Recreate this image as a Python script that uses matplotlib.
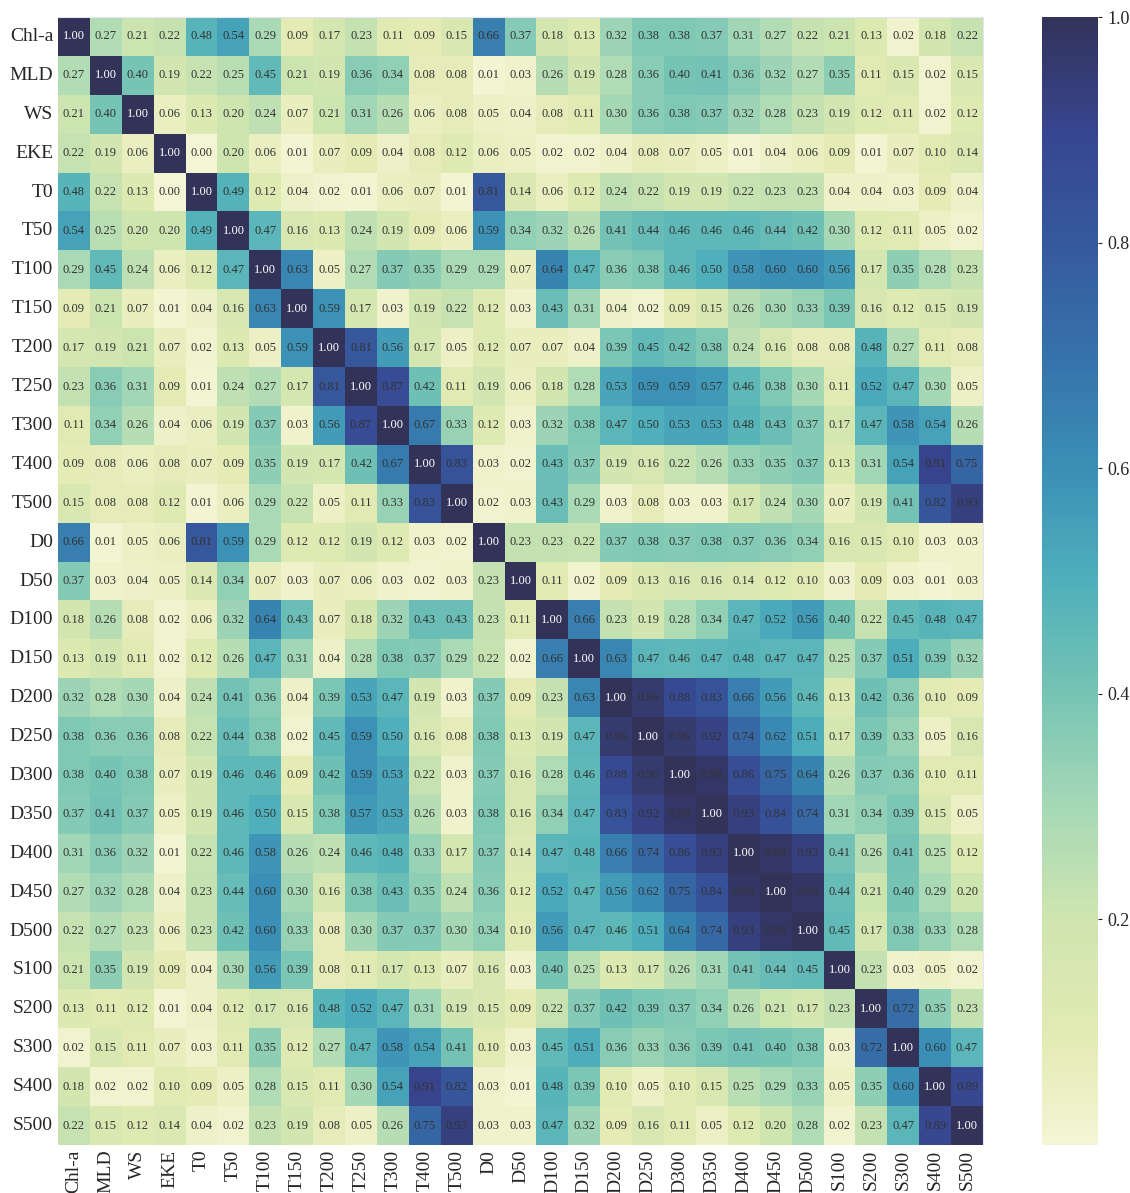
import numpy as np
import pandas as pd
import matplotlib
matplotlib.use('Agg')
import matplotlib.pyplot as plt
from matplotlib import font_manager
from matplotlib.colors import LinearSegmentedColormap
import seaborn as sns

labels = ['Chl-a', 'MLD', 'WS', 'EKE', 'T0', 'T50', 'T100', 'T150', 'T200', 'T250',
          'T300', 'T400', 'T500', 'D0', 'D50', 'D100', 'D150', 'D200', 'D250', 'D300',
          'D350', 'D400', 'D450', 'D500', 'S100', 'S200', 'S300', 'S400', 'S500']

rows = [
    [1.00, 0.27, 0.21, 0.22, 0.48, 0.54, 0.29, 0.09, 0.17, 0.23, 0.11, 0.09, 0.15, 0.66, 0.37, 0.18, 0.13, 0.32, 0.38, 0.38, 0.37, 0.31, 0.27, 0.22, 0.21, 0.13, 0.02, 0.18, 0.22],
    [0.27, 1.00, 0.40, 0.19, 0.22, 0.25, 0.45, 0.21, 0.19, 0.36, 0.34, 0.08, 0.08, 0.01, 0.03, 0.26, 0.19, 0.28, 0.36, 0.40, 0.41, 0.36, 0.32, 0.27, 0.35, 0.11, 0.15, 0.02, 0.15],
    [0.21, 0.40, 1.00, 0.06, 0.13, 0.20, 0.24, 0.07, 0.21, 0.31, 0.26, 0.06, 0.08, 0.05, 0.04, 0.08, 0.11, 0.30, 0.36, 0.38, 0.37, 0.32, 0.28, 0.23, 0.19, 0.12, 0.11, 0.02, 0.12],
    [0.22, 0.19, 0.06, 1.00, 0.00, 0.20, 0.06, 0.01, 0.07, 0.09, 0.04, 0.08, 0.12, 0.06, 0.05, 0.02, 0.02, 0.04, 0.08, 0.07, 0.05, 0.01, 0.04, 0.06, 0.09, 0.01, 0.07, 0.10, 0.14],
    [0.48, 0.22, 0.13, 0.00, 1.00, 0.49, 0.12, 0.04, 0.02, 0.01, 0.06, 0.07, 0.01, 0.81, 0.14, 0.06, 0.12, 0.24, 0.22, 0.19, 0.19, 0.22, 0.23, 0.23, 0.04, 0.04, 0.03, 0.09, 0.04],
    [0.54, 0.25, 0.20, 0.20, 0.49, 1.00, 0.47, 0.16, 0.13, 0.24, 0.19, 0.09, 0.06, 0.59, 0.34, 0.32, 0.26, 0.41, 0.44, 0.46, 0.46, 0.46, 0.44, 0.42, 0.30, 0.12, 0.11, 0.05, 0.02],
    [0.29, 0.45, 0.24, 0.06, 0.12, 0.47, 1.00, 0.63, 0.05, 0.27, 0.37, 0.35, 0.29, 0.29, 0.07, 0.64, 0.47, 0.36, 0.38, 0.46, 0.50, 0.58, 0.60, 0.60, 0.56, 0.17, 0.35, 0.28, 0.23],
    [0.09, 0.21, 0.07, 0.01, 0.04, 0.16, 0.63, 1.00, 0.59, 0.17, 0.03, 0.19, 0.22, 0.12, 0.03, 0.43, 0.31, 0.04, 0.02, 0.09, 0.15, 0.26, 0.30, 0.33, 0.39, 0.16, 0.12, 0.15, 0.19],
    [0.17, 0.19, 0.21, 0.07, 0.02, 0.13, 0.05, 0.59, 1.00, 0.81, 0.56, 0.17, 0.05, 0.12, 0.07, 0.07, 0.04, 0.39, 0.45, 0.42, 0.38, 0.24, 0.16, 0.08, 0.08, 0.48, 0.27, 0.11, 0.08],
    [0.23, 0.36, 0.31, 0.09, 0.01, 0.24, 0.27, 0.17, 0.81, 1.00, 0.87, 0.42, 0.11, 0.19, 0.06, 0.18, 0.28, 0.53, 0.59, 0.59, 0.57, 0.46, 0.38, 0.30, 0.11, 0.52, 0.47, 0.30, 0.05],
    [0.11, 0.34, 0.26, 0.04, 0.06, 0.19, 0.37, 0.03, 0.56, 0.87, 1.00, 0.67, 0.33, 0.12, 0.03, 0.32, 0.38, 0.47, 0.50, 0.53, 0.53, 0.48, 0.43, 0.37, 0.17, 0.47, 0.58, 0.54, 0.26],
    [0.09, 0.08, 0.06, 0.08, 0.07, 0.09, 0.35, 0.19, 0.17, 0.42, 0.67, 1.00, 0.83, 0.03, 0.02, 0.43, 0.37, 0.19, 0.16, 0.22, 0.26, 0.33, 0.35, 0.37, 0.13, 0.31, 0.54, 0.91, 0.75],
    [0.15, 0.08, 0.08, 0.12, 0.01, 0.06, 0.29, 0.22, 0.05, 0.11, 0.33, 0.83, 1.00, 0.02, 0.03, 0.43, 0.29, 0.03, 0.08, 0.03, 0.03, 0.17, 0.24, 0.30, 0.07, 0.19, 0.41, 0.82, 0.93],
    [0.66, 0.01, 0.05, 0.06, 0.81, 0.59, 0.29, 0.12, 0.12, 0.19, 0.12, 0.03, 0.02, 1.00, 0.23, 0.23, 0.22, 0.37, 0.38, 0.37, 0.38, 0.37, 0.36, 0.34, 0.16, 0.15, 0.10, 0.03, 0.03],
    [0.37, 0.03, 0.04, 0.05, 0.14, 0.34, 0.07, 0.03, 0.07, 0.06, 0.03, 0.02, 0.03, 0.23, 1.00, 0.11, 0.02, 0.09, 0.13, 0.16, 0.16, 0.14, 0.12, 0.10, 0.03, 0.09, 0.03, 0.01, 0.03],
    [0.18, 0.26, 0.08, 0.02, 0.06, 0.32, 0.64, 0.43, 0.07, 0.18, 0.32, 0.43, 0.43, 0.23, 0.11, 1.00, 0.66, 0.23, 0.19, 0.28, 0.34, 0.47, 0.52, 0.56, 0.40, 0.22, 0.45, 0.48, 0.47],
    [0.13, 0.19, 0.11, 0.02, 0.12, 0.26, 0.47, 0.31, 0.04, 0.28, 0.38, 0.37, 0.29, 0.22, 0.02, 0.66, 1.00, 0.63, 0.47, 0.46, 0.47, 0.48, 0.47, 0.47, 0.25, 0.37, 0.51, 0.39, 0.32],
    [0.32, 0.28, 0.30, 0.04, 0.24, 0.41, 0.36, 0.04, 0.39, 0.53, 0.47, 0.19, 0.03, 0.37, 0.09, 0.23, 0.63, 1.00, 0.96, 0.88, 0.83, 0.66, 0.56, 0.46, 0.13, 0.42, 0.36, 0.10, 0.09],
    [0.38, 0.36, 0.36, 0.08, 0.22, 0.44, 0.38, 0.02, 0.45, 0.59, 0.50, 0.16, 0.08, 0.38, 0.13, 0.19, 0.47, 0.96, 1.00, 0.96, 0.92, 0.74, 0.62, 0.51, 0.17, 0.39, 0.33, 0.05, 0.16],
    [0.38, 0.40, 0.38, 0.07, 0.19, 0.46, 0.46, 0.09, 0.42, 0.59, 0.53, 0.22, 0.03, 0.37, 0.16, 0.28, 0.46, 0.88, 0.96, 1.00, 0.98, 0.86, 0.75, 0.64, 0.26, 0.37, 0.36, 0.10, 0.11],
    [0.37, 0.41, 0.37, 0.05, 0.19, 0.46, 0.50, 0.15, 0.38, 0.57, 0.53, 0.26, 0.03, 0.38, 0.16, 0.34, 0.47, 0.83, 0.92, 0.98, 1.00, 0.93, 0.84, 0.74, 0.31, 0.34, 0.39, 0.15, 0.05],
    [0.31, 0.36, 0.32, 0.01, 0.22, 0.46, 0.58, 0.26, 0.24, 0.46, 0.48, 0.33, 0.17, 0.37, 0.14, 0.47, 0.48, 0.66, 0.74, 0.86, 0.93, 1.00, 0.98, 0.93, 0.41, 0.26, 0.41, 0.25, 0.12],
    [0.27, 0.32, 0.28, 0.04, 0.23, 0.44, 0.60, 0.30, 0.16, 0.38, 0.43, 0.35, 0.24, 0.36, 0.12, 0.52, 0.47, 0.56, 0.62, 0.75, 0.84, 0.98, 1.00, 0.98, 0.44, 0.21, 0.40, 0.29, 0.20],
    [0.22, 0.27, 0.23, 0.06, 0.23, 0.42, 0.60, 0.33, 0.08, 0.30, 0.37, 0.37, 0.30, 0.34, 0.10, 0.56, 0.47, 0.46, 0.51, 0.64, 0.74, 0.93, 0.98, 1.00, 0.45, 0.17, 0.38, 0.33, 0.28],
    [0.21, 0.35, 0.19, 0.09, 0.04, 0.30, 0.56, 0.39, 0.08, 0.11, 0.17, 0.13, 0.07, 0.16, 0.03, 0.40, 0.25, 0.13, 0.17, 0.26, 0.31, 0.41, 0.44, 0.45, 1.00, 0.23, 0.03, 0.05, 0.02],
    [0.13, 0.11, 0.12, 0.01, 0.04, 0.12, 0.17, 0.16, 0.48, 0.52, 0.47, 0.31, 0.19, 0.15, 0.09, 0.22, 0.37, 0.42, 0.39, 0.37, 0.34, 0.26, 0.21, 0.17, 0.23, 1.00, 0.72, 0.35, 0.23],
    [0.02, 0.15, 0.11, 0.07, 0.03, 0.11, 0.35, 0.12, 0.27, 0.47, 0.58, 0.54, 0.41, 0.10, 0.03, 0.45, 0.51, 0.36, 0.33, 0.36, 0.39, 0.41, 0.40, 0.38, 0.03, 0.72, 1.00, 0.60, 0.47],
    [0.18, 0.02, 0.02, 0.10, 0.09, 0.05, 0.28, 0.15, 0.11, 0.30, 0.54, 0.91, 0.82, 0.03, 0.01, 0.48, 0.39, 0.10, 0.05, 0.10, 0.15, 0.25, 0.29, 0.33, 0.05, 0.35, 0.60, 1.00, 0.89],
    [0.22, 0.15, 0.12, 0.14, 0.04, 0.02, 0.23, 0.19, 0.08, 0.05, 0.26, 0.75, 0.93, 0.03, 0.03, 0.47, 0.32, 0.09, 0.16, 0.11, 0.05, 0.12, 0.20, 0.28, 0.02, 0.23, 0.47, 0.89, 1.00],
]

df = pd.DataFrame(rows, index=labels, columns=labels)

# pick a Times-like face if one is present
names = set(f.name for f in font_manager.fontManager.ttflist)
serif = [n for n in ['Liberation Serif', 'Times New Roman', 'Nimbus Roman', 'TeX Gyre Termes',
                     'Noto Serif', 'DejaVu Serif'] if n in names]
plt.rcParams['font.family'] = 'serif'
plt.rcParams['font.serif'] = serif + ['DejaVu Serif']

# colours sampled off the reference colour bar
cmap = LinearSegmentedColormap.from_list('corr', [
    (0.00, '#f4f5d4'), (0.10, '#e2eab2'), (0.20, '#cfe5b0'), (0.30, '#a6d8b6'),
    (0.40, '#76c4b4'), (0.50, '#4fb0bb'), (0.60, '#3a8fb6'), (0.70, '#3672aa'),
    (0.80, '#36599e'), (0.90, '#374690'), (1.00, '#33335a')])

fig = plt.figure(figsize=(11.3, 11.93), dpi=100)
ax = fig.add_axes([58 / 1130, 1 - 1145 / 1193, 925 / 1130, 1128 / 1193])
cax = fig.add_axes([1042 / 1130, 1 - 1145 / 1193, 56 / 1130, 1128 / 1193])

sns.heatmap(df, ax=ax, cbar_ax=cax, cmap=cmap, vmin=0, vmax=1,
            annot=True, fmt='.2f', annot_kws={'size': 9})

for t in ax.texts:
    t.set_color('white' if t.get_text() == '1.00' else '#333333')

ax.tick_params(axis='both', labelsize=14, length=0, colors='#262626')
ax.set_xticklabels(labels, rotation=90)
ax.set_yticklabels(labels, rotation=0)
for s in ['top', 'right']:
    ax.spines[s].set_visible(True)
    ax.spines[s].set_color('#e3e6ee')

cax.tick_params(labelsize=13, length=3, width=0.8, colors='#262626')
cax.set_yticks([0.2, 0.4, 0.6, 0.8, 1.0])
cax.set_yticklabels(['0.2', '0.4', '0.6', '0.8', '1.0'])

fig.savefig('out.png', dpi=100)
